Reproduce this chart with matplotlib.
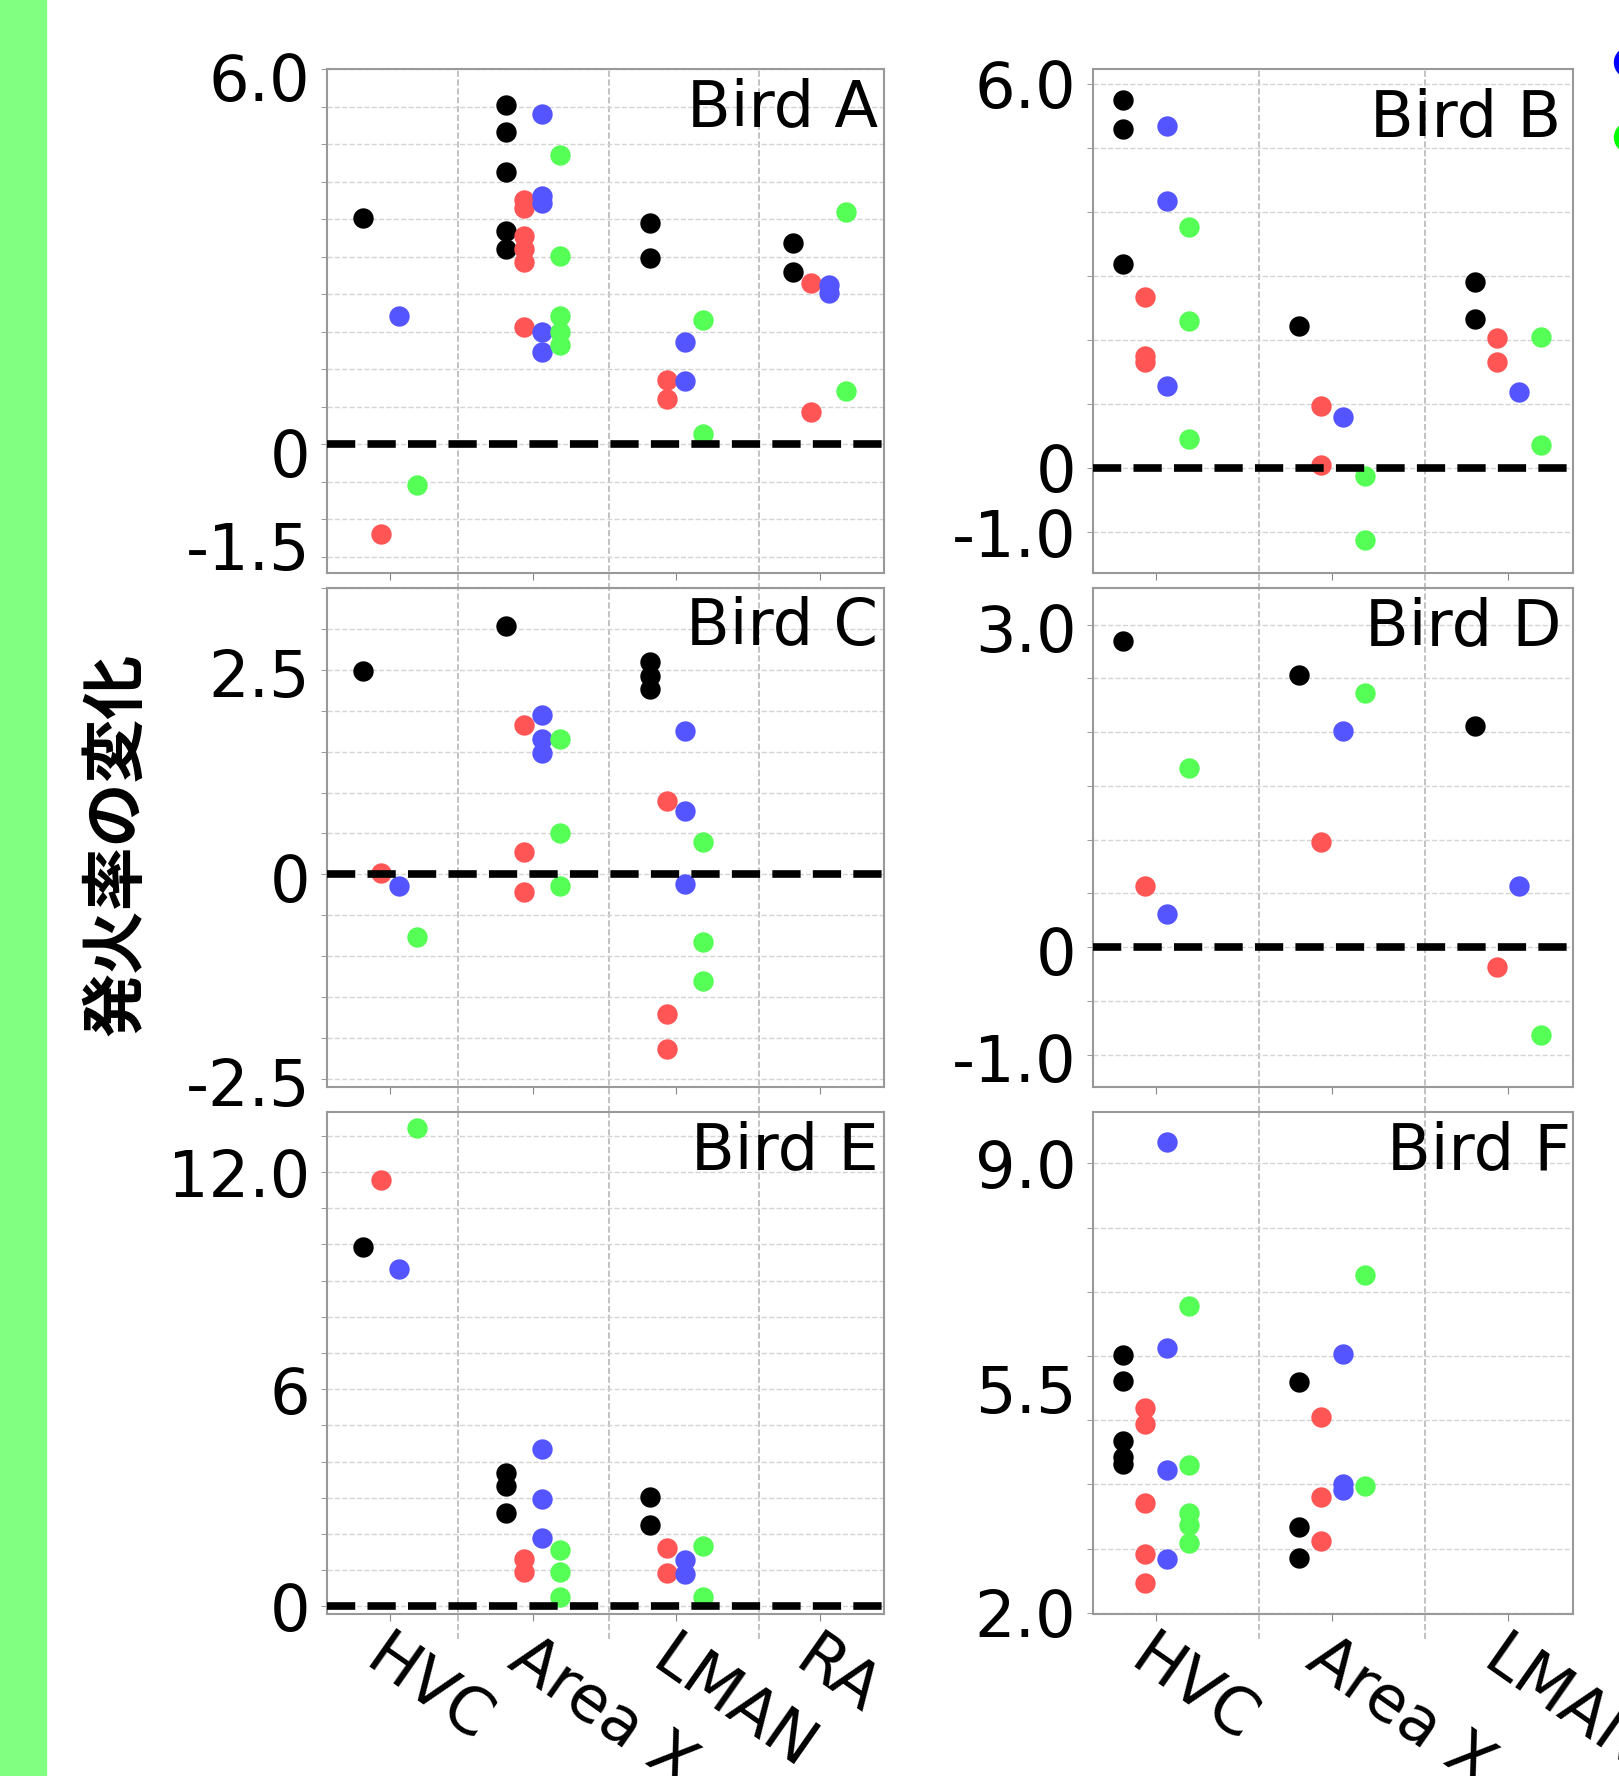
import numpy as np
import matplotlib.pyplot as plt
from matplotlib.ticker import MultipleLocator
from matplotlib.transforms import ScaledTranslation
from matplotlib.lines import Line2D
from matplotlib.patches import Rectangle

plt.rcParams['font.family'] = ['DejaVu Sans']

regions_left = ["HVC", "Area X", "LMAN", "RA"]
regions_right = ["HVC", "Area X", "LMAN"]
dot_colors = ["black", "#ff5555", "#5555ff", "#55ff55"]
dot_offsets = [-0.1875, -0.0625, 0.0625, 0.1875]

# values per colour group: one list per region
bird_a = {
    "black": [[3.61], [5.42, 4.99, 4.35, 3.41, 3.12], [3.53, 2.97], [3.22, 2.76]],
    "red":   [[-1.43], [3.91, 3.77, 3.33, 3.12, 2.92, 1.88], [1.03, 0.72], [2.58, 0.51]],
    "blue":  [[2.05], [5.28, 3.97, 3.86, 1.80, 1.47], [1.63, 1.01], [2.55, 2.42]],
    "green": [[-0.65], [4.62, 3.01, 2.05, 1.80, 1.58], [1.98, 0.16], [3.71, 0.85]],
}
bird_b = {
    "black": [[5.74, 5.30, 3.19], [2.22], [2.91, 2.33]],
    "red":   [[2.67, 1.75, 1.66], [0.97, 0.05], [2.03, 1.66]],
    "blue":  [[5.34, 4.17, 1.28], [0.79], [1.19]],
    "green": [[3.77, 2.30, 0.45], [-0.12, -1.13], [2.05, 0.36]],
}
bird_c = {
    "black": [[2.49], [3.03], [2.59, 2.43, 2.27], []],
    "red":   [[0.01], [1.82, 0.27, -0.22], [0.90, -1.71, -2.14], []],
    "blue":  [[-0.14], [1.95, 1.66, 1.48], [1.75, 0.78, -0.12], []],
    "green": [[-0.77], [1.66, 0.50, -0.14], [0.40, -0.83, -1.30], []],
}
bird_d = {
    "black": [[2.85], [2.53], [2.06]],
    "red":   [[0.57], [0.98], [-0.18]],
    "blue":  [[0.31], [2.01], [0.57]],
    "green": [[1.67], [2.36], [-0.82]],
}
bird_e = {
    "black": [[9.94], [3.69, 3.33, 2.58], [3.01, 2.24], []],
    "red":   [[11.79], [1.31, 0.95], [1.61, 0.92], []],
    "blue":  [[9.32], [4.35, 2.98, 1.90], [1.27, 0.89], []],
    "green": [[13.21], [1.57, 0.95, 0.27], [1.67, 0.26], []],
}
bird_f = {
    "black": [[6.01, 5.61, 4.68, 4.42, 4.32], [5.60, 3.33, 2.86], []],
    "red":   [[5.19, 4.94, 3.71, 2.91, 2.47], [5.05, 3.81, 3.11], []],
    "blue":  [[9.33, 6.13, 4.23, 2.83], [6.03, 4.01, 3.91], []],
    "green": [[6.78, 4.30, 3.56, 3.36, 3.09], [7.26, 3.98], []],
}

ytick_a, ylab_a = [6.0, 0, -1.5], ["6.0", "0", "-1.5"]
ytick_b, ylab_b = [6.0, 0, -1.0], ["6.0", "0", "-1.0"]
ytick_c, ylab_c = [2.5, 0, -2.5], ["2.5", "0", "-2.5"]
ytick_d, ylab_d = [3.0, 0, -1.0], ["3.0", "0", "-1.0"]
ytick_e, ylab_e = [12.0, 6, 0], ["12.0", "6", "0"]
ytick_f, ylab_f = [9.0, 5.5, 2.0], ["9.0", "5.5", "2.0"]

W, H = 1619, 1776
fig = plt.figure(figsize=(W / 100, H / 100), dpi=100)

fig.patches.append(Rectangle((0, 0), 46 / W, 1, transform=fig.transFigure,
                             color="#80ff80", zorder=0))
fig.text(116 / W, 1 - 844 / H, "発火率の変化", rotation=90, ha="center", va="center",
         fontsize=46, fontweight="bold", family=["Noto Sans CJK JP", "DejaVu Sans"])

cols = {"left": (327, 884, regions_left, (-0.44, 3.45), [0.475, 1.53, 2.58]),
        "right": (1093, 1573, regions_right, (-0.355, 2.37), [0.59, 1.53])}
rows = [(69, 573), (588, 1087), (1112, 1614)]

# name, data, column, row, ylim, grid step, ticks, labels, title pos, label shift (px)
panels = [
    ("Bird A", bird_a, "left", 0, (-2.06, 6.0), 0.6, ytick_a, ylab_a, (0.99, 0.983), -8),
    ("Bird B", bird_b, "right", 0, (-1.64, 6.23), 1.0, ytick_b, ylab_b, (0.975, 0.965), 0),
    ("Bird C", bird_c, "left", 1, (-2.60, 3.50), 0.5, ytick_c, ylab_c, (0.99, 0.983), -3),
    ("Bird D", bird_d, "right", 1, (-1.30, 3.34), 0.5, ytick_d, ylab_d, (0.975, 0.983), -3),
    ("Bird E", bird_e, "left", 2, (-0.21, 13.66), 1.0, ytick_e, ylab_e, (0.99, 0.983), 0),
    ("Bird F", bird_f, "right", 2, (1.98, 9.80), 1.0, ytick_f, ylab_f, (0.996, 0.983), 0),
]

for name, data, col, row, ylim, step, yt, yl, tpos, yshift in panels:
    x0, x1, regions, xlim, bounds = cols[col]
    top, bot = rows[row]
    ax = fig.add_axes([x0 / W, 1 - bot / H, (x1 - x0) / W, (bot - top) / H])

    for k, key in enumerate(["black", "red", "blue", "green"]):
        xs, ys = [], []
        for i, vals in enumerate(data[key]):
            xs += [i + dot_offsets[k]] * len(vals)
            ys += vals
        ax.scatter(xs, ys, s=215, color=dot_colors[k], linewidths=0, zorder=3)

    ax.set_xlim(xlim)
    ax.set_ylim(ylim)
    ax.set_xticks(range(len(regions)))
    ax.set_yticks(yt)
    ax.yaxis.set_minor_locator(MultipleLocator(step))
    ax.yaxis.remove_overlapping_locs = False
    ax.grid(which="minor", axis="y", color="#d4d4d4", ls="--", lw=1.0)
    ax.tick_params(axis="y", which="major", length=0, pad=12)
    ax.tick_params(axis="y", which="minor", length=4, color="#888888")
    ax.tick_params(axis="x", length=5, color="#888888", pad=4)

    if row == 2:
        ax.set_xticklabels(regions, rotation=-35, ha="left", va="top",
                           rotation_mode="anchor", fontsize=46)
    else:
        ax.set_xticklabels([])
    ax.set_yticklabels(yl, fontsize=46)
    # small vertical nudge of the y labels (after tick_params, which resets transforms)
    if yshift:
        ys_t = ScaledTranslation(0, yshift / 100, fig.dpi_scale_trans)
        for lab in ax.get_yticklabels():
            lab.set_transform(lab.get_transform() + ys_t)

    for bx in bounds:
        ax.axvline(bx, ymin=-0.05, ymax=1, clip_on=False, color="#b8b8b8",
                   ls="--", lw=1.2, zorder=1)
    if ylim[0] < 0:
        ax.axhline(0, color="black", ls="--", lw=5.5, zorder=4)

    ax.text(tpos[0], tpos[1], name, transform=ax.transAxes, ha="right", va="top",
            fontsize=46)
    for sp in ax.spines.values():
        sp.set_color("#999999")
        sp.set_linewidth(1.5)

# legend markers, mostly outside the canvas
for yy, c in [(-13, "red"), (62, "blue"), (137, "#00ff00")]:
    fig.add_artist(Line2D([1629 / W], [1 - yy / H], transform=fig.transFigure,
                          marker="o", markersize=21.6, color=c, linestyle="none"))

fig.savefig("out.png", dpi=100)
